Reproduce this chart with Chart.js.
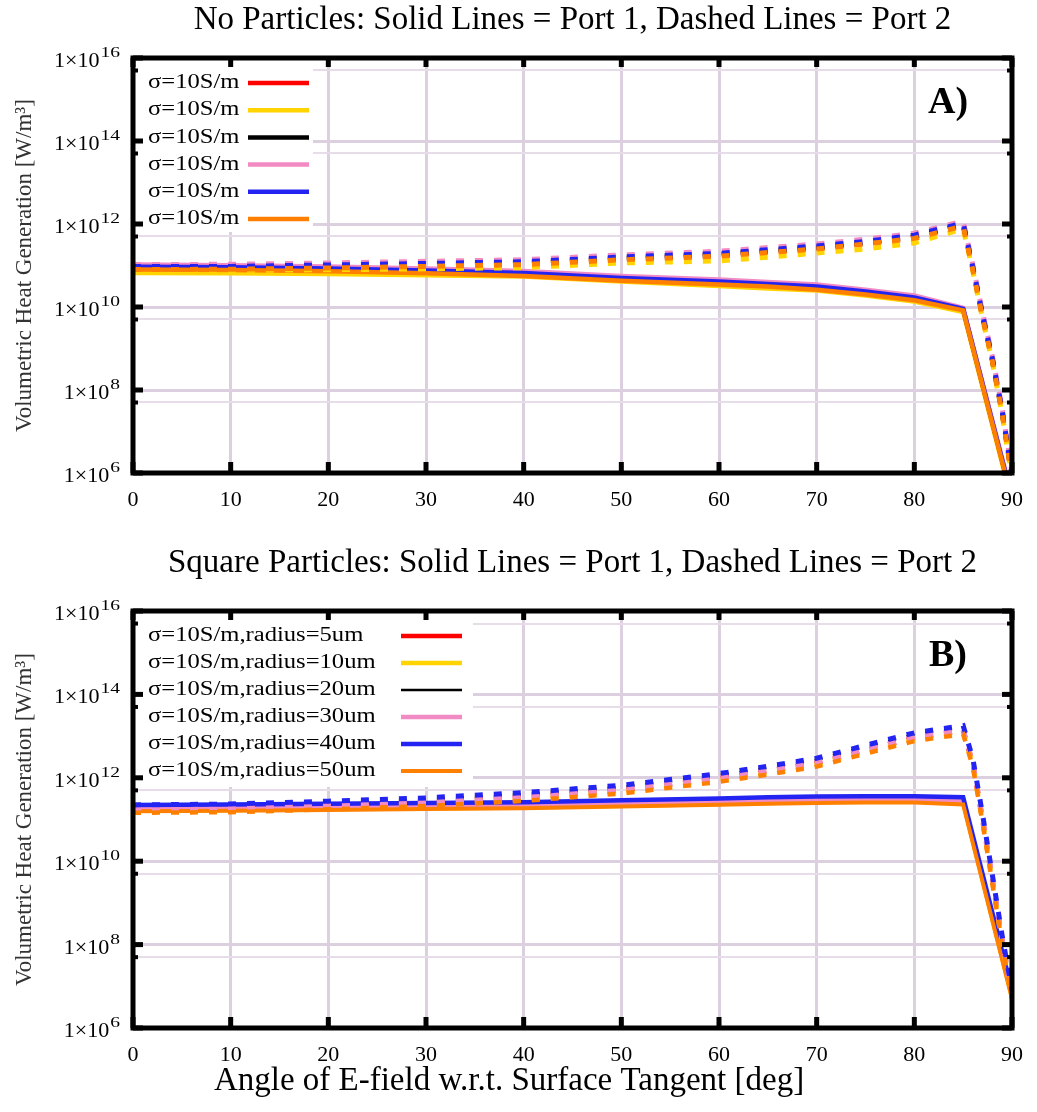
<!DOCTYPE html>
<html><head><meta charset="utf-8">
<script src="https://cdn.jsdelivr.net/npm/chart.js@4.4.0/dist/chart.umd.min.js"></script>
<style>
html,body{margin:0;padding:0;background:#fff;}
#wrap{position:relative;width:1037px;height:1112px;overflow:hidden;}
canvas{position:absolute;left:0;}
#c1{top:0;}
#c2{top:530px;}
</style></head><body>
<div id="wrap">
<canvas id="c1" width="1037" height="525"></canvas>
<canvas id="c2" width="1037" height="582"></canvas>
</div>
<script>
// ---------- data ----------
const anglesSolid  = [0,10,20,30,40,50,60,65,70,75,80,85,90];
const anglesDashed = [0,10,20,30,40,50,60,65,70,75,80,85,86,87,88,89,90];
const xTickValues = [0,10,20,30,40,50,60,70,80,90];
const yMajorValues = [1e6,1e8,1e10,1e12,1e14,1e16];
const yMinorValues = [5e7,5e9,5e11,5e13,5e15];
const yTickMantissa = '1×10';
const yTickExponents = ['6','8','10','12','14','16'];

const labelsA = ['σ=10S/m','σ=10S/m','σ=10S/m','σ=10S/m','σ=10S/m','σ=10S/m'];
const labelsB = ['σ=10S/m,radius=5um','σ=10S/m,radius=10um','σ=10S/m,radius=20um','σ=10S/m,radius=30um','σ=10S/m,radius=40um','σ=10S/m,radius=50um'];

// Panel A: no particles (port 1 solid, port 2 dashed)
const aSolidRed    = [8.6e10, 8.3e10, 7.7e10, 6.9e10, 6.0e10, 4.6e10, 3.7e10, 3.3e10, 2.8e10, 2.1e10, 1.55e10, 8.6e9, 2.3e5];
const aSolidYellow = [6.6e10, 6.5e10, 6.2e10, 5.8e10, 5.4e10, 4.1e10, 3.2e10, 2.8e10, 2.5e10, 1.9e10, 1.35e10, 7.6e9, 2.0e5];
const aSolidBlack  = [8.9e10, 8.7e10, 8.1e10, 7.2e10, 6.3e10, 4.8e10, 3.9e10, 3.4e10, 3.0e10, 2.2e10, 1.6e10, 8.8e9, 2.4e5];
const aSolidPink   = [1.05e11, 1.02e11, 9.5e10, 8.5e10, 7.4e10, 5.6e10, 4.6e10, 4.0e10, 3.5e10, 2.6e10, 1.9e10, 9.5e9, 2.8e5];
const aSolidBlue   = [9.3e10, 9.1e10, 8.5e10, 7.6e10, 6.6e10, 5.0e10, 4.1e10, 3.6e10, 3.1e10, 2.35e10, 1.7e10, 9.0e9, 2.5e5];
const aSolidOrange = [8.0e10, 7.8e10, 7.3e10, 6.5e10, 5.6e10, 4.3e10, 3.5e10, 3.1e10, 2.6e10, 2.0e10, 1.45e10, 8.3e9, 2.2e5];

const aDashRed    = [8.4e10, 8.5e10, 9.1e10, 1.0e11, 1.1e11, 1.43e11, 1.75e11, 2.15e11, 2.6e11, 3.4e11, 4.8e11, 9.3e11, 8.0e10, 5.6e9, 5.0e8, 2.8e7, 8.0e5];
const aDashYellow = [7.4e10, 7.6e10, 7.9e10, 8.3e10, 8.9e10, 1.15e11, 1.29e11, 1.58e11, 2.0e11, 2.5e11, 3.5e11, 7.6e11, 7.1e10, 5.0e9, 4.5e8, 2.5e7, 7.1e5];
const aDashBlack  = [8.8e10, 8.9e10, 9.6e10, 1.05e11, 1.15e11, 1.5e11, 1.85e11, 2.25e11, 2.75e11, 3.6e11, 5.0e11, 9.8e11, 8.5e10, 6.0e9, 5.2e8, 2.9e7, 8.5e5];
const aDashPink   = [1.05e11, 1.07e11, 1.15e11, 1.26e11, 1.38e11, 1.8e11, 2.2e11, 2.7e11, 3.3e11, 4.3e11, 6.0e11, 1.17e12, 1.0e11, 7.1e9, 6.3e8, 3.5e7, 1.0e6];
const aDashBlue   = [9.4e10, 9.5e10, 1.03e11, 1.12e11, 1.23e11, 1.6e11, 1.96e11, 2.4e11, 2.95e11, 3.8e11, 5.4e11, 1.05e12, 9.0e10, 6.3e9, 5.6e8, 3.1e7, 9.0e5];
const aDashOrange = [8.0e10, 8.1e10, 8.7e10, 9.5e10, 1.05e11, 1.37e11, 1.67e11, 2.05e11, 2.5e11, 3.3e11, 4.5e11, 8.9e11, 7.6e10, 5.4e9, 4.8e8, 2.7e7, 7.6e5];

// Panel B: square particles
const bSolidRed    = [1.8e11, 1.85e11, 1.9e11, 2.0e11, 2.1e11, 2.3e11, 2.55e11, 2.7e11, 2.8e11, 2.85e11, 2.85e11, 2.7e11, 6.0e6];
const bSolidYellow = [1.65e11, 1.7e11, 1.78e11, 1.85e11, 1.95e11, 2.15e11, 2.35e11, 2.5e11, 2.65e11, 2.7e11, 2.7e11, 2.5e11, 5.5e6];
const bSolidBlack  = [2.1e11, 2.15e11, 2.25e11, 2.35e11, 2.45e11, 2.7e11, 3.0e11, 3.2e11, 3.3e11, 3.35e11, 3.35e11, 3.2e11, 5.0e6];
const bSolidPink   = [1.9e11, 1.95e11, 2.0e11, 2.1e11, 2.2e11, 2.4e11, 2.65e11, 2.8e11, 2.95e11, 3.0e11, 3.0e11, 2.8e11, 6.0e6];
const bSolidBlue   = [2.24e11, 2.3e11, 2.4e11, 2.5e11, 2.6e11, 2.9e11, 3.2e11, 3.4e11, 3.55e11, 3.6e11, 3.6e11, 3.4e11, 8.0e6];
const bSolidOrange = [1.58e11, 1.62e11, 1.7e11, 1.78e11, 1.86e11, 2.05e11, 2.25e11, 2.4e11, 2.5e11, 2.55e11, 2.55e11, 2.3e11, 5.0e6];

const bDashRed    = [1.7e11, 1.8e11, 2.1e11, 2.5e11, 3.35e11, 5.0e11, 9.6e11, 1.45e12, 2.25e12, 4.55e12, 9.1e12, 1.35e13, 2.1e12, 9.6e10, 3.4e9, 1.2e8, 6.1e6];
const bDashYellow = [1.55e11, 1.62e11, 1.9e11, 2.28e11, 3.0e11, 4.55e11, 8.7e11, 1.3e12, 2.05e12, 4.15e12, 8.3e12, 1.23e13, 1.95e12, 8.7e10, 3.1e9, 1.1e8, 5.5e6];
const bDashBlack  = [2.05e11, 2.15e11, 2.5e11, 3.0e11, 4.0e11, 6.0e11, 1.15e12, 1.73e12, 2.7e12, 5.5e12, 1.1e13, 1.62e13, 2.55e12, 1.15e11, 4.1e9, 1.45e8, 7.3e6];
const bDashPink   = [1.8e11, 1.85e11, 2.2e11, 2.6e11, 3.5e11, 5.2e11, 1.0e12, 1.5e12, 2.35e12, 4.75e12, 9.5e12, 1.41e13, 2.2e12, 1.0e11, 3.6e9, 1.26e8, 6.3e6];
const bDashBlue   = [2.24e11, 2.35e11, 2.75e11, 3.3e11, 4.4e11, 6.6e11, 1.26e12, 1.9e12, 2.95e12, 6.0e12, 1.2e13, 1.78e13, 2.8e12, 1.26e11, 4.5e9, 1.6e8, 8.0e6];
const bDashOrange = [1.45e11, 1.5e11, 1.75e11, 2.1e11, 2.8e11, 4.2e11, 8.0e11, 1.2e12, 1.86e12, 3.8e12, 7.6e12, 1.12e13, 1.8e12, 8.0e10, 2.8e9, 1.0e8, 5.0e6];

// ---------- styles ----------
const seriesColors = ['#ff0000', '#ffd400', '#000000', '#f28ac3', '#2424f2', '#ff8000'];
const widthsA = [4.5, 4.5, 4.5, 4.5, 4.5, 4.5];
const widthsB = [4.5, 4.5, 2.5, 4.5, 4.5, 4];
const FONT = '"Liberation Serif", "Times New Roman", serif';

Chart.defaults.font.family = FONT;
Chart.defaults.color = '#000';
Chart.defaults.animation = false;

const pts = (xs, ys) => xs.map((x, i) => ({x, y: ys[i]}));

function buildDatasets(labels, solids, dashes, widths) {
  const ds = [];
  solids.forEach((vals, i) => ds.push({
    label: labels[i], inLegend: true, data: pts(anglesSolid, vals),
    borderColor: seriesColors[i], borderWidth: widths[i], pointRadius: 0,
    fill: false, tension: 0, order: 20 - i
  }));
  dashes.forEach((vals, i) => ds.push({
    label: labels[i] + ' (Port 2)', inLegend: false, data: pts(anglesDashed, vals),
    borderColor: seriesColors[i], borderWidth: widths[i] + 0.5, borderDash: [8, 11],
    pointRadius: 0, fill: false, tension: 0, order: 10 - i
  }));
  return ds;
}

const decor = {
  id: 'decor',
  afterDatasetsDraw(chart, args, o) {
    const {ctx, chartArea: a, scales: {x, y}} = chart;
    ctx.save();
    // legend (inside plot, white box)
    ctx.fillStyle = '#fff';
    ctx.fillRect(a.left, a.top, o.legendW, o.legendH);
    ctx.font = '20px ' + FONT;
    ctx.textBaseline = 'middle';
    ctx.textAlign = 'left';
    chart.data.datasets.filter(d => d.inLegend).forEach((d, i) => {
      const yy = a.top + 25 + i * o.legendStep;
      ctx.fillStyle = '#000';
      ctx.save();
      ctx.translate(a.left + 15, yy);
      ctx.scale(1.23, 1);
      ctx.fillText(d.label, 0, 0);
      ctx.restore();
      ctx.strokeStyle = d.borderColor;
      ctx.lineWidth = d.borderWidth;
      ctx.setLineDash([]);
      ctx.beginPath();
      ctx.moveTo(a.left + o.sx0, yy);
      ctx.lineTo(a.left + o.sx1, yy);
      ctx.stroke();
    });
    // panel tag
    ctx.fillStyle = '#000';
    ctx.font = 'bold 38px ' + FONT;
    ctx.textAlign = 'center';
    ctx.fillText(o.tag, a.right - 64, a.top + 45);
    // frame
    ctx.strokeStyle = '#000';
    ctx.lineWidth = 5;
    ctx.strokeRect(a.left, a.top, a.right - a.left, a.bottom - a.top);
    // inward ticks
    xTickValues.forEach(v => {
      const px = x.getPixelForValue(v);
      ctx.fillRect(px - 2.5, a.bottom - 11, 5, 11);
      ctx.fillRect(px - 2.5, a.top, 5, 9);
    });
    yMajorValues.forEach(v => {
      const py = y.getPixelForValue(v);
      ctx.fillRect(a.left, py - 2.5, 10, 5);
      ctx.fillRect(a.right - 10, py - 2.5, 10, 5);
    });
    yMinorValues.forEach(v => {
      const py = y.getPixelForValue(v);
      ctx.fillRect(a.left, py - 2, 5, 4);
      ctx.fillRect(a.right - 5, py - 2, 5, 4);
    });
    // y tick labels with superscript exponent
    ctx.textAlign = 'left';
    ctx.textBaseline = 'alphabetic';
    const sm = 1.05, se = 1.3;
    yMajorValues.forEach((v, k) => {
      const py = y.getPixelForValue(v);
      ctx.font = '21px ' + FONT;
      const wm = ctx.measureText(yTickMantissa).width * sm;
      ctx.font = '15px ' + FONT;
      const we = ctx.measureText(yTickExponents[k]).width * se;
      const x0 = a.left - 14 - wm - we;
      ctx.save();
      ctx.translate(x0, py + 9);
      ctx.scale(sm, 1);
      ctx.font = '21px ' + FONT;
      ctx.fillText(yTickMantissa, 0, 0);
      ctx.restore();
      ctx.save();
      ctx.translate(x0 + wm + 1, py - 1);
      ctx.scale(se, 1);
      ctx.font = '15px ' + FONT;
      ctx.fillText(yTickExponents[k], 0, 0);
      ctx.restore();
    });
    ctx.restore();
  }
};

function makeOptions(titleText, titlePad, xHeight, subtitle, decorOpts) {
  return {
    responsive: false,
    animation: false,
    layout: {padding: {left: 0, right: 19, top: 0, bottom: 0}},
    plugins: {
      legend: {display: false},
      tooltip: {enabled: false},
      title: {display: true, text: titleText, fullSize: false, color: '#000',
              font: {size: 33, weight: 'normal', lineHeight: 1.2}, padding: titlePad},
      subtitle: subtitle,
      decor: decorOpts
    },
    scales: {
      x: {
        type: 'linear', min: 0, max: 90,
        afterBuildTicks: (s) => { s.ticks = xTickValues.map(v => ({value: v})); },
        ticks: {font: {size: 22}, padding: 14, color: '#000', maxRotation: 0, autoSkip: false},
        grid: {color: '#dccfdf', lineWidth: 3, drawTicks: false},
        border: {display: false},
        afterFit: (s) => { s.height = xHeight; }
      },
      y: {
        type: 'logarithmic', min: 1e6, max: 1e16,
        afterBuildTicks: (s) => {
          s.ticks = yMajorValues.concat(yMinorValues).sort((p, q) => p - q).map(v => ({value: v}));
        },
        ticks: {
          display: false, autoSkip: false,
          callback: (v) => { const k = yMajorValues.indexOf(v); return k >= 0 ? yTickMantissa + yTickExponents[k] : ''; }
        },
        grid: {
          drawTicks: false,
          color: (c) => (c.tick && yMajorValues.includes(c.tick.value)) ? '#dccfdf' : '#e6dde8',
          lineWidth: (c) => (c.tick && yMajorValues.includes(c.tick.value)) ? 3 : 2
        },
        border: {display: false},
        title: {display: true, text: 'Volumetric Heat Generation [W/m³]', color: '#333',
                font: {size: 23, lineHeight: 1.2}, padding: {top: 11, bottom: 0}},
        afterFit: (s) => { s.width = 133; }
      }
    }
  };
}

new Chart(document.getElementById('c1'), {
  type: 'line',
  data: {datasets: buildDatasets(labelsA,
    [aSolidRed, aSolidYellow, aSolidBlack, aSolidPink, aSolidBlue, aSolidOrange],
    [aDashRed, aDashYellow, aDashBlack, aDashPink, aDashBlue, aDashOrange], widthsA)},
  options: makeOptions('No Particles: Solid Lines = Port 1, Dashed Lines = Port 2',
    {top: 0.5, bottom: 17.9}, 52, {display: false},
    {tag: 'A)', legendW: 180, legendH: 174, legendStep: 27.2, sx0: 115, sx1: 176}),
  plugins: [decor]
});

new Chart(document.getElementById('c2'), {
  type: 'line',
  data: {datasets: buildDatasets(labelsB,
    [bSolidRed, bSolidYellow, bSolidBlack, bSolidPink, bSolidBlue, bSolidOrange],
    [bDashRed, bDashYellow, bDashBlack, bDashPink, bDashBlue, bDashOrange], widthsB)},
  options: makeOptions('Square Particles: Solid Lines = Port 1, Dashed Lines = Port 2',
    {top: 13.5, bottom: 27.9}, 34,
    {display: true, position: 'bottom', text: 'Angle of E-field w.r.t. Surface Tangent [deg]',
     color: '#000', font: {size: 33, lineHeight: 1.2}, padding: {top: 0, bottom: 10.4}},
    {tag: 'B)', legendW: 340, legendH: 176, legendStep: 27, sx0: 268, sx1: 329}),
  plugins: [decor]
});
</script>
</body></html>
